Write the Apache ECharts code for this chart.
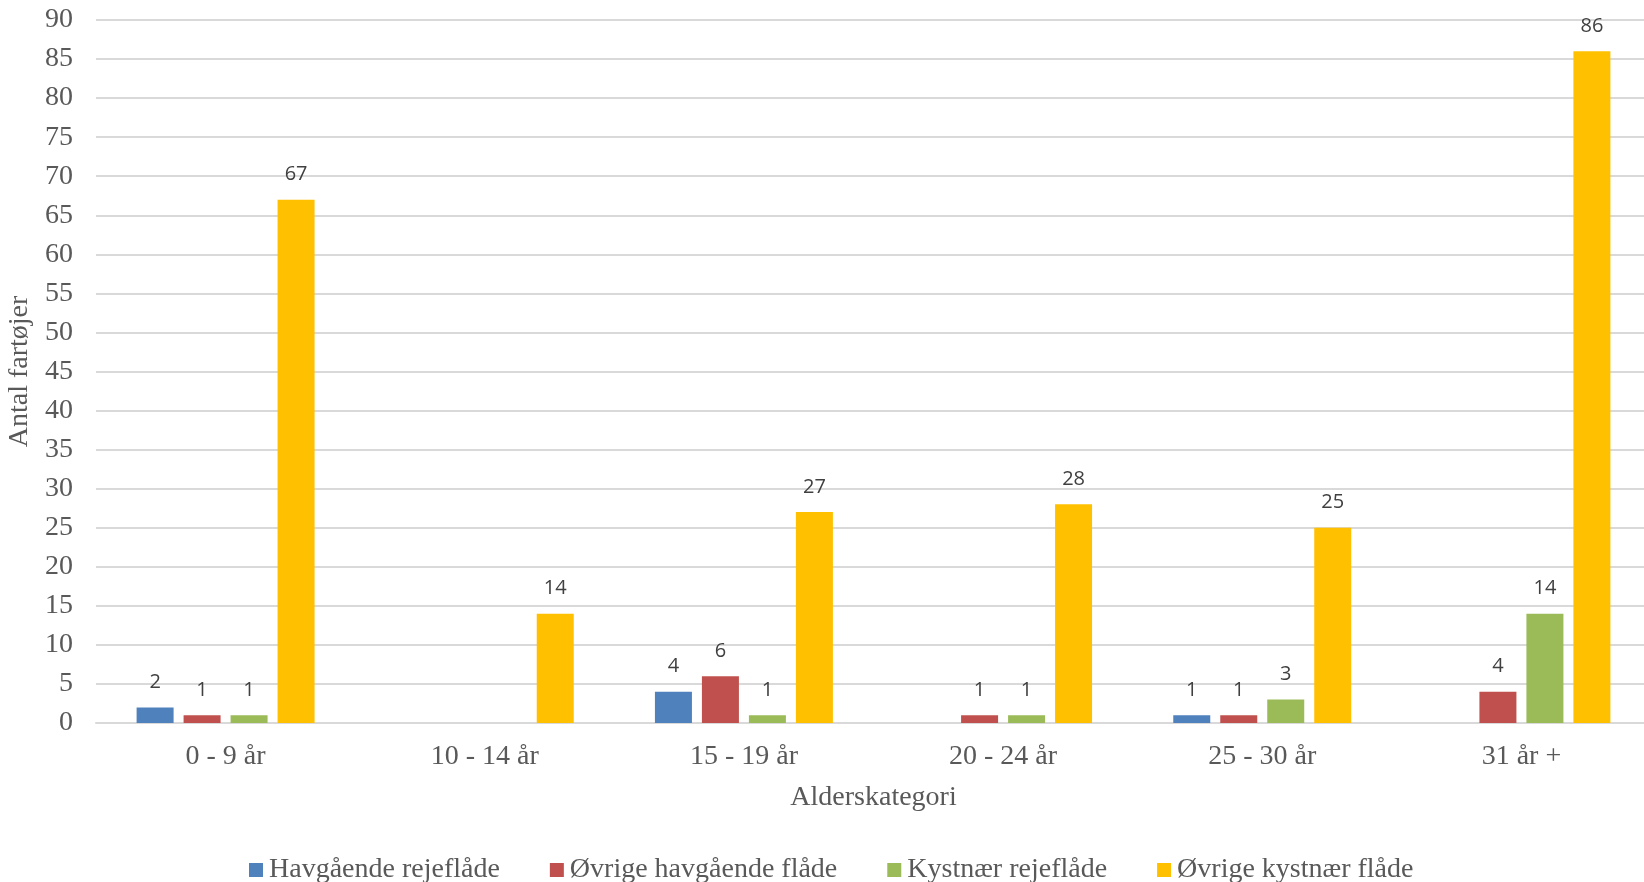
<!DOCTYPE html>
<html>
<head>
<meta charset="utf-8">
<script src="https://cdn.jsdelivr.net/npm/echarts@6/dist/echarts.min.js"></script>
<style>
html,body{margin:0;padding:0;background:#fff;overflow:hidden;}
#c{width:1644px;height:882px;}
</style>
</head>
<body>
<div id="c"></div>
<script>
const categories = ['0 - 9 år', '10 - 14 år', '15 - 19 år', '20 - 24 år', '25 - 30 år', '31 år +'];
const seriesNames = ['Havgående rejeflåde', 'Øvrige havgående flåde', 'Kystnær rejeflåde', 'Øvrige kystnær flåde'];
const havgaaendeRejeflaade = [2, null, 4, null, 1, null];
const oevrigeHavgaaendeFlaade = [1, null, 6, 1, 1, 4];
const kystnaerRejeflaade = [1, null, 1, 1, 3, 14];
const oevrigeKystnaerFlaade = [67, 14, 27, 28, 25, 86];
const colors = ['#4F81BD', '#C0504D', '#9BBB59', '#FFC000'];
const seriesData = [havgaaendeRejeflaade, oevrigeHavgaaendeFlaade, kystnaerRejeflaade, oevrigeKystnaerFlaade];

const serif = '"Liberation Serif", "Times New Roman", serif';
const chart = echarts.init(document.getElementById('c'));
chart.setOption({
  animation: false,
  color: colors,
  grid: { left: 96, width: 1555, top: 20, height: 703, containLabel: false, outerBoundsMode: 'none' },
  legend: {
    top: 851,
    left: 244,
    itemWidth: 14,
    itemHeight: 14,
    itemGap: 50,
    icon: 'rect',
    textStyle: { fontFamily: serif, fontSize: 28, color: '#595959', padding: [0, 0, 0, 1] },
    data: seriesNames
  },
  xAxis: {
    type: 'category',
    data: categories,
    name: 'Alderskategori',
    nameLocation: 'middle',
    nameGap: 61,
    nameTextStyle: { fontFamily: serif, fontSize: 28, color: '#595959' },
    axisLine: { lineStyle: { color: '#d9d9d9', width: 2 } },
    axisTick: { show: false },
    axisLabel: { fontFamily: serif, fontSize: 28, color: '#595959', margin: 20 }
  },
  yAxis: {
    type: 'value',
    min: 0,
    max: 90,
    interval: 5,
    name: 'Antal fartøjer',
    nameLocation: 'middle',
    nameGap: 57,
    nameTextStyle: { fontFamily: serif, fontSize: 28, color: '#595959' },
    axisLine: { show: false },
    axisTick: { show: false },
    axisLabel: { fontFamily: serif, fontSize: 28, color: '#595959', margin: 23 },
    splitLine: { lineStyle: { color: '#d9d9d9', width: 2 } }
  },
  series: seriesNames.map((n, i) => ({
    name: n,
    type: 'bar',
    data: seriesData[i],
    barWidth: 37,
    barGap: '27%',
    itemStyle: { color: colors[i] },
    label: {
      show: true,
      position: 'top',
      distance: 15,
      fontFamily: '"Open Sans", "Noto Sans", sans-serif',
      fontSize: 20,
      color: '#404040'
    }
  }))
});
</script>
</body>
</html>
